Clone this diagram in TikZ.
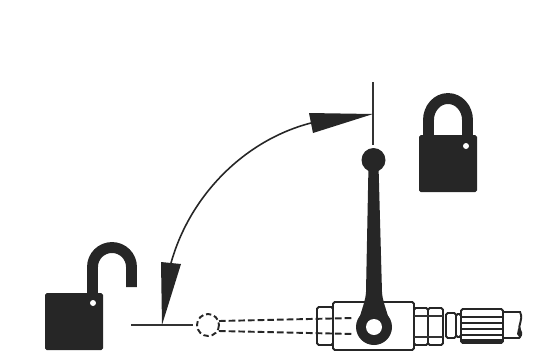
\documentclass[tikz,border=0pt]{standalone}
\begin{document}
\begin{tikzpicture}[
            x=0.02cm, y=-0.02cm,
            ink/.style={fill=black!85, draw=none},
            outline/.style={draw=black!85, line width=1.1pt, fill=white, rounded corners=1pt},
            thinline/.style={draw=black!80, line width=0.9pt},
            dashline/.style={draw=black!85, line width=1.1pt, dash pattern=on 3.8pt off 1.7pt},
            shackle/.style={draw=black!85, line width=6.2pt, line cap=butt}
        ]
        \useasboundingbox (0,0) rectangle (552,360);

        % --- closed lock ---
        \draw[shackle] (428.5,138) -- (428.5,120) arc[start angle=180, end angle=360, x radius=19.5, y radius=21.5] -- (467.5,138);
        \fill[ink, rounded corners=1pt] (419,135) -- (477,135) -- (477,192) -- (419,192) -- cycle;
        \fill[white] (466,146) circle (3);

        % --- open lock ---
        \draw[shackle] (92.5,296) -- (92.5,267) arc[start angle=180, end angle=360, x radius=19.5, y radius=19.5] -- (131.5,287);
        \fill[ink, rounded corners=1pt] (45,293) -- (103,293) -- (103,350) -- (45,350) -- cycle;
        \fill[white] (93,303) circle (3);

        % --- travel arc ---
        \draw[thinline] (373,82) -- (373,145);
        \draw[thinline] (131,325) -- (193,325);
        \draw[draw=black!85, line width=0.9pt] (311,123) .. controls (245,140) and (190,195) .. (171,263);
        \fill[ink] (373,114) -- (309,113) -- (313,133) -- cycle;
        \fill[ink] (162,325) -- (161,262) -- (181,264) -- cycle;

        % --- valve ---
        \draw[outline] (317,307) rectangle (333,345);
        \draw[outline, fill=none] (333,302) rectangle (414,350);
        \draw[outline] (414,308) rectangle (428,345);
        \draw[outline] (428,308) rectangle (443,345);
        \draw[thinline] (414,316) -- (443,316);
        \draw[thinline] (414,337) -- (443,337);
        \draw[outline] (446,313) rectangle (456,338);
        \draw[outline] (456,314) rectangle (461,337);
        \draw[outline] (461,309) rectangle (503,343);
        \foreach \ya in {317,323,329,335} {
            \draw[draw=black!85, line width=1.1pt] (461,\ya) -- (503,\ya);
        }
        \draw[draw=black!85, line width=2pt] (461,341) -- (503,341);
        \draw[draw=black!85, line width=1.1pt] (503,312) -- (520,312) .. controls (524,320) and (517,326) .. (520,330) .. controls (523,334) and (520,337) .. (519,338) -- (503,338);
        \fill[ink] (518,329) -- (520,326) -- (521,331) -- (520,338) -- (517,334) -- cycle;

        % --- lever, shut position dashed ---
        \draw[dashline] (219,321) -- (354,318);
        \draw[dashline] (219,331) -- (354,334);
        \draw[dashline, dash pattern=on 3pt off 1.7pt] (208,325) circle (11);

        % --- lever ---
        \fill[ink] (368.5,165) -- (378.5,165) -- (382,292) .. controls (382.5,300) and (385,306) .. (388,316) -- (360,316) .. controls (363,306) and (365.5,300) .. (366,292) -- cycle;
        \fill[ink] (373.5,160) circle (12);
        \fill[ink] (374,327) circle (18);
        \fill[white] (374,327) circle (8);
        \end{tikzpicture}
\end{document}
